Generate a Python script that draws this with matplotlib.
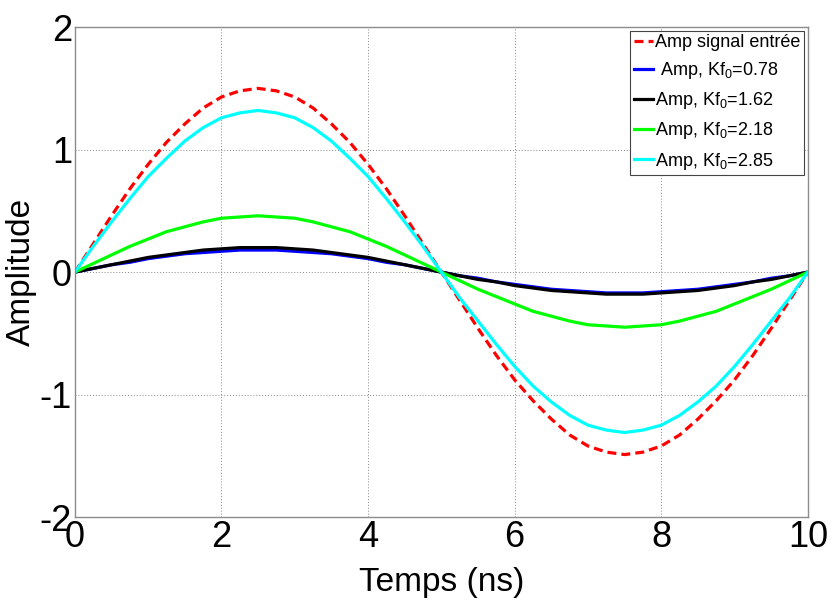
import matplotlib.pyplot as plt

plt.rcParams['font.family'] = ['Liberation Sans', 'DejaVu Sans']
plt.rcParams['mathtext.fontset'] = 'custom'
plt.rcParams['mathtext.rm'] = 'Liberation Sans'
plt.rcParams['mathtext.it'] = 'Liberation Sans'
plt.rcParams['axes.unicode_minus'] = False

# time axis (ns), read every 0.25 ns
temps = [0.0, 0.25, 0.5, 0.75, 1.0, 1.25, 1.5, 1.75, 2.0, 2.25, 2.5, 2.75, 3.0, 3.25,
         3.5, 3.75, 4.0, 4.25, 4.5, 4.75, 5.0, 5.25, 5.5, 5.75, 6.0, 6.25, 6.5, 6.75,
         7.0, 7.25, 7.5, 7.75, 8.0, 8.25, 8.5, 8.75, 9.0, 9.25, 9.5, 9.75, 10.0]

amp_entree = [0, 0.23, 0.46, 0.68, 0.88, 1.06, 1.21, 1.34, 1.43, 1.48, 1.50, 1.48, 1.43,
              1.34, 1.21, 1.06, 0.88, 0.68, 0.46, 0.23, 0,
              -0.23, -0.46, -0.68, -0.88, -1.05, -1.20, -1.33, -1.42, -1.47, -1.49,
              -1.47, -1.42, -1.33, -1.20, -1.05, -0.88, -0.68, -0.46, -0.23, 0]
amp_078 = [0, 0.03, 0.06, 0.08, 0.11, 0.13, 0.15, 0.16, 0.17, 0.18, 0.18, 0.18, 0.17,
           0.16, 0.15, 0.13, 0.11, 0.08, 0.06, 0.03, 0,
           -0.03, -0.05, -0.08, -0.10, -0.12, -0.14, -0.15, -0.16, -0.17, -0.17,
           -0.17, -0.16, -0.15, -0.14, -0.12, -0.10, -0.08, -0.05, -0.03, 0]
amp_162 = [0, 0.03, 0.06, 0.09, 0.12, 0.14, 0.16, 0.18, 0.19, 0.20, 0.20, 0.20, 0.19,
           0.18, 0.16, 0.14, 0.12, 0.09, 0.06, 0.03, 0,
           -0.03, -0.06, -0.08, -0.11, -0.13, -0.15, -0.16, -0.17, -0.18, -0.18,
           -0.18, -0.17, -0.16, -0.15, -0.13, -0.11, -0.08, -0.06, -0.03, 0]
amp_218 = [0, 0.07, 0.14, 0.21, 0.27, 0.33, 0.37, 0.41, 0.44, 0.45, 0.46, 0.45, 0.44,
           0.41, 0.37, 0.33, 0.27, 0.21, 0.14, 0.07, 0,
           -0.07, -0.14, -0.20, -0.26, -0.32, -0.36, -0.40, -0.43, -0.44, -0.45,
           -0.44, -0.43, -0.40, -0.36, -0.32, -0.26, -0.20, -0.14, -0.07, 0]
amp_285 = [0, 0.21, 0.41, 0.60, 0.78, 0.93, 1.07, 1.18, 1.26, 1.30, 1.32, 1.30, 1.26,
           1.18, 1.07, 0.93, 0.78, 0.60, 0.41, 0.21, 0,
           -0.21, -0.40, -0.59, -0.77, -0.93, -1.06, -1.17, -1.25, -1.29, -1.31,
           -1.29, -1.25, -1.17, -1.06, -0.93, -0.77, -0.59, -0.40, -0.21, 0]

labels = ['Amp signal entrée', ' Amp, Kf$_0$=0.78', 'Amp, Kf$_0$=1.62',
          'Amp, Kf$_0$=2.18', 'Amp, Kf$_0$=2.85']

fig = plt.figure(figsize=(8.32, 6.04), dpi=100)
ax = fig.add_axes([0.090, 0.144, 0.881, 0.811])

lw = 2.3
ax.plot(temps, amp_entree, color='#ff0000', lw=lw, dashes=(2.8, 1.6), label=labels[0])
ax.plot(temps, amp_078, color='#0000ff', lw=lw, label=labels[1])
ax.plot(temps, amp_162, color='black', lw=lw, label=labels[2])
ax.plot(temps, amp_218, color='#00ff00', lw=lw, label=labels[3])
ax.plot(temps, amp_285, color='#00ffff', lw=lw, label=labels[4])

ax.set_xlim(0, 10)
ax.set_ylim(-2, 2)
ax.set_xticks([0, 2, 4, 6, 8, 10])
ax.set_yticks([-2, -1, 0, 1, 2])
ax.tick_params(axis='both', labelsize=26, length=0, pad=2)
ax.grid(True, linestyle=(0, (1, 2)), color='#888888', lw=0.7)
for sp in ax.spines.values():
    sp.set_color('#8c8c8c')
    sp.set_linewidth(1.0)

ax.set_xlabel('Temps (ns)', fontsize=24, labelpad=9)
ax.set_ylabel('Amplitude', fontsize=24)
ax.yaxis.set_label_coords(-0.052, 0.5)

leg = ax.legend(loc='upper right', fontsize=13, handlelength=1.1, handletextpad=0.1,
                borderaxespad=0.2, borderpad=0.2, labelspacing=0.5, fancybox=False,
                framealpha=1)
leg.get_frame().set_edgecolor('#444444')
leg.get_frame().set_linewidth(0.8)

fig.savefig('out.png', dpi=100)
